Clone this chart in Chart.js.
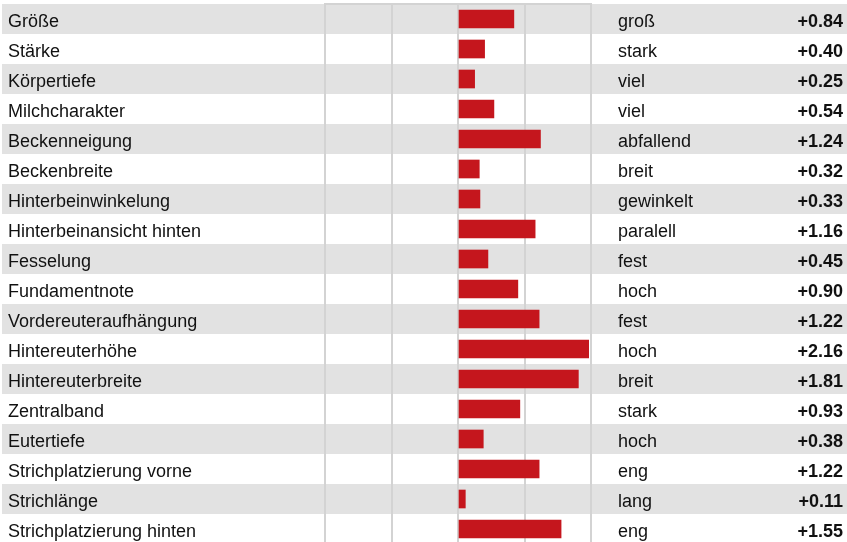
<!DOCTYPE html>
<html>
<head>
<meta charset="utf-8">
<script src="https://cdn.jsdelivr.net/npm/chart.js@4/dist/chart.umd.min.js"></script>
<style>
    html, body { margin: 0; padding: 0; background: #fff; overflow: hidden; }
    #wrap { position: relative; width: 847px; height: 544px; }
</style>
</head>
<body>
<div id="wrap"><canvas id="profil"></canvas></div>
<script>
// Merkmale (linke Spalte)
const merkmale = [
    'Größe', 'Stärke', 'Körpertiefe', 'Milchcharakter', 'Beckenneigung',
    'Beckenbreite', 'Hinterbeinwinkelung', 'Hinterbeinansicht hinten', 'Fesselung',
    'Fundamentnote', 'Vordereuteraufhängung', 'Hintereuterhöhe', 'Hintereuterbreite',
    'Zentralband', 'Eutertiefe', 'Strichplatzierung vorne', 'Strichlänge',
    'Strichplatzierung hinten'
];
// Ausprägung (rechte Spalte)
const auspraegung = [
    'groß', 'stark', 'viel', 'viel', 'abfallend', 'breit', 'gewinkelt', 'paralell',
    'fest', 'hoch', 'fest', 'hoch', 'breit', 'stark', 'hoch', 'eng', 'lang', 'eng'
];
// Zuchtwerte
const werte = [
    0.84, 0.40, 0.25, 0.54, 1.24, 0.32, 0.33, 1.16, 0.45,
    0.90, 1.22, 2.16, 1.81, 0.93, 0.38, 1.22, 0.11, 1.55
];
// Skala
const skalaMin = -2;
const skalaMax = 2;

const schrift = 'Liberation Sans, Arial, Helvetica, sans-serif';
const textFarbe = '#111111';
const gitterFarbe = '#d3d3d3';

// graue Zeilen im Wechsel
const zeilenBaender = {
    id: 'zeilenBaender',
    beforeDraw(chart) {
        const {ctx, scales: {y}} = chart;
        const half = Math.abs(y.getPixelForValue(1) - y.getPixelForValue(0)) / 2;
        ctx.save();
        ctx.fillStyle = '#e2e2e2';
        merkmale.forEach((m, i) => {
            if (i % 2 === 0) {
                const cy = y.getPixelForValue(i);
                ctx.fillRect(2, cy - half, chart.width - 2, half * 2);
            }
        });
        ctx.restore();
    }
};

// keine Extra-Abstände durch Achsen
const fitBreite = w => s => {
    s.width = w;
    s.paddingTop = 0;
    s.paddingBottom = 0;
};

const tickFont = {family: schrift, size: 18};

new Chart(document.getElementById('profil'), {
    type: 'bar',
    data: {
        labels: merkmale,
        datasets: [{
            data: werte,
            backgroundColor: '#c5161d',
            borderWidth: 0,
            barThickness: 18,
            clip: {left: 0, top: 0, right: -2, bottom: 0}
        }]
    },
    options: {
        indexAxis: 'y',
        responsive: true,
        maintainAspectRatio: false,
        animation: false,
        events: [],
        layout: {padding: {left: 8, right: 4, top: 4, bottom: 0}},
        plugins: {legend: {display: false}, tooltip: {enabled: false}},
        scales: {
            x: {
                position: 'top',
                min: skalaMin,
                max: skalaMax,
                ticks: {display: false, stepSize: 1},
                grid: {color: gitterFarbe, lineWidth: 2, drawTicks: false},
                border: {display: true, color: gitterFarbe, width: 2},
                afterFit: s => {
                    s.height = 0;
                    s.paddingLeft = 0;
                    s.paddingRight = 0;
                }
            },
            y: {
                position: 'left',
                grid: {display: false, drawTicks: false},
                border: {display: false},
                ticks: {
                    autoSkip: false, crossAlign: 'far', padding: 0, labelOffset: 3,
                    color: textFarbe, font: tickFont
                },
                afterFit: fitBreite(317)
            },
            stufe: {
                type: 'category',
                axis: 'y',
                position: 'right',
                offset: true,
                labels: auspraegung,
                grid: {display: false, drawTicks: false},
                border: {display: false},
                ticks: {
                    autoSkip: false, crossAlign: 'near', padding: 27, labelOffset: 3,
                    color: textFarbe, font: tickFont
                },
                afterFit: fitBreite(150)
            },
            wert: {
                type: 'category',
                axis: 'y',
                position: 'right',
                offset: true,
                labels: werte.map(v => (v >= 0 ? '+' : '') + v.toFixed(2)),
                grid: {display: false, drawTicks: false},
                border: {display: false},
                ticks: {
                    autoSkip: false, crossAlign: 'far', padding: 0, labelOffset: 3,
                    color: textFarbe, font: {family: schrift, size: 18, weight: 'bold'}
                },
                afterFit: fitBreite(102)
            }
        }
    },
    plugins: [zeilenBaender]
});
</script>
</body>
</html>
